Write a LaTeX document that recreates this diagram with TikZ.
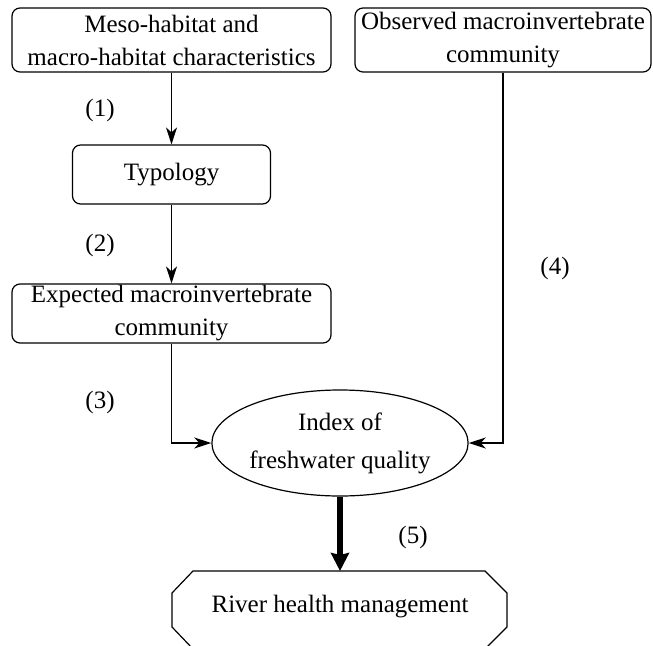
\documentclass[tikz,border=0pt]{standalone}
\usepackage{fontspec}
\setmainfont{Liberation Serif}
\usetikzlibrary{arrows.meta,shapes.geometric}
\begin{document}
\begin{tikzpicture}[x=1pt,y=-1pt,
  font=\fontsize{25}{33}\selectfont,
  rbox/.style={draw, line width=1.2pt, rounded corners=8pt, align=center, inner sep=0pt},
  conn/.style={line width=1.2pt, -{Stealth[length=17pt,width=11pt,inset=5pt]}},
  thick conn/.style={line width=6pt, -{Stealth[length=18pt,width=18pt,inset=2pt]}},
  lbl/.style={inner sep=0pt}]
\useasboundingbox (0,0) rectangle (653,645);
\clip (0,0) rectangle (653,645);
\node[rbox, minimum width=319pt, minimum height=64pt] (b1) at (171.5,40) {Meso-habitat and\\macro-habitat characteristics};
\node[rbox, minimum width=296pt, minimum height=64pt] (obs) at (503,40) {Observed macroinvertebrate\\community};
\node[rbox, minimum width=198pt, minimum height=59pt] (typ) at (171.5,174.5) {Typology};
\node[rbox, minimum width=319pt, minimum height=59pt] (exp) at (171.5,313.5) {Expected macroinvertebrate\\community};
\node[draw, ellipse, line width=1.2pt, minimum width=244pt, minimum height=106pt, inner sep=0pt, align=center,
  font=\fontsize{25}{38}\selectfont] (ell) at (340,443) {Index of\\freshwater quality};
\draw[line width=1.2pt] (193,571) -- (485,571) -- (507,593) -- (507,627) -- (485,649) -- (193,649) -- (172,627) -- (172,593) -- cycle;
\coordinate (octtop) at (340,571);
\node[lbl] (rhm) at (340,607) {River health management};
\node[lbl] (l1) at (100,110) {(1)};
\node[lbl] (l2) at (100,245) {(2)};
\node[lbl] (l3) at (100,402) {(3)};
\node[lbl] (l4) at (555,268) {(4)};
\node[lbl] (l5) at (413,537) {(5)};
\draw[conn] (b1.south) -- (typ.north);
\draw[conn] (typ.south) -- (exp.north);
\draw[conn] (exp.south) |- (ell.west);
\draw[conn] (obs.south) |- (ell.east);
\draw[thick conn] (ell.south) -- (octtop);
\end{tikzpicture}
\end{document}
